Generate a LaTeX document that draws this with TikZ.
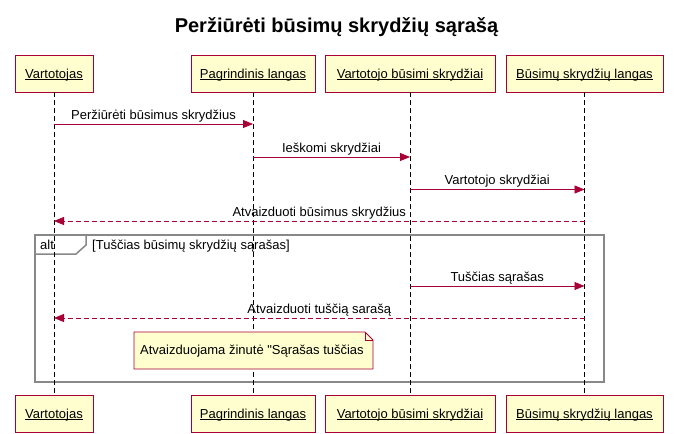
\documentclass[tikz,border=0pt]{standalone}
\usepackage{fontspec}
\setmainfont{Liberation Sans}[Ligatures=TeXOff]
\usetikzlibrary{arrows.meta}
\definecolor{pborder}{HTML}{A80036}
\definecolor{pfill}{HTML}{FEFECE}
\definecolor{framegray}{HTML}{888888}
\newcommand\ulname[1]{\setbox0\hbox{#1}\rlap{\rule[-1.3pt]{\wd0}{0.7pt}}\box0}
\begin{document}
\begin{tikzpicture}[x=1pt,y=-1pt,
  part/.style={draw=pborder, fill=pfill, line width=0.8pt, minimum height=37pt, inner sep=0pt,
    font=\fontsize{13}{15}\selectfont, text height=9.5pt, text depth=0.5pt},
  life/.style={draw=black, line width=0.7pt, dash pattern=on 5pt off 3pt},
  msg/.style={draw=pborder, line width=0.8pt, -{Triangle[length=10pt,width=8pt]}},
  ret/.style={msg, dash pattern=on 5pt off 3pt},
  lbl/.style={font=\fontsize{13}{15}\selectfont, inner sep=0pt, anchor=base},
  frm/.style={draw=framegray, line width=1.5pt},
  notebox/.style={draw=pborder, fill=pfill, line width=0.8pt}
]
\useasboundingbox (0,0) rectangle (681,434);
\fill[white] (0,0) rectangle (681,434);

\node[font=\fontsize{20}{24}\selectfont\bfseries, inner sep=0pt, anchor=base] (title) at (336.5,32) {Peržiūrėti būsimų skrydžių sąrašą};

% participants
\node[part, minimum width=78pt]  (tA) at (54,73.5)   {\ulname{Vartotojas}};
\node[part, minimum width=124pt] (tB) at (253,73.5)  {\ulname{Pagrindinis langas}};
\node[part, minimum width=170pt] (tC) at (410,73.5)  {\ulname{Vartotojo būsimi skrydžiai}};
\node[part, minimum width=157pt] (tD) at (584.5,73.5) {\ulname{Būsimų skrydžių langas}};
\node[part, minimum width=78pt]  (bA) at (54,413.5)   {\ulname{Vartotojas}};
\node[part, minimum width=124pt] (bB) at (253,413.5)  {\ulname{Pagrindinis langas}};
\node[part, minimum width=170pt] (bC) at (410,413.5)  {\ulname{Vartotojo būsimi skrydžiai}};
\node[part, minimum width=157pt] (bD) at (584.5,413.5) {\ulname{Būsimų skrydžių langas}};

% alt frame
\draw[frm] (35,235) rectangle (604,382);
\draw[frm] (35,254) -- (76,254) -- (86,245) -- (86,235);
\node[lbl, anchor=base west] (altlbl) at (40,249) {alt};
\node[lbl, anchor=base west] (guard) at (92,249) {[Tuščias būsimų skrydžių sąrašas]};

% lifelines
\draw[life] (tA.south) -- (bA.north);
\draw[life] (tB.south) -- (bB.north);
\draw[life] (tC.south) -- (bC.north);
\draw[life] (tD.south) -- (bD.north);

% message anchor points
\coordinate (m1a) at (tA.south |- 0,124);
\coordinate (m1b) at (tB.south |- 0,124);
\coordinate (m2a) at (tB.south |- 0,157);
\coordinate (m2b) at (tC.south |- 0,157);
\coordinate (m3a) at (tC.south |- 0,189.5);
\coordinate (m3b) at (tD.south |- 0,189.5);
\coordinate (m4a) at (tD.south |- 0,221);
\coordinate (m4b) at (tA.south |- 0,221);
\coordinate (m5a) at (tC.south |- 0,286);
\coordinate (m5b) at (tD.south |- 0,286);
\coordinate (m6a) at (tD.south |- 0,318);
\coordinate (m6b) at (tA.south |- 0,318);

\draw[msg] (m1a) -- (m1b) node[lbl, midway, yshift=5pt] (l1) {Peržiūrėti būsimus skrydžius};
\draw[msg] (m2a) -- (m2b) node[lbl, midway, yshift=5pt] (l2) {Ieškomi skrydžiai};
\draw[msg] (m3a) -- (m3b) node[lbl, midway, yshift=5pt] (l3) {Vartotojo skrydžiai};
\draw[ret] (m4a) -- (m4b) node[lbl, midway, yshift=5pt] (l4) {Atvaizduoti būsimus skrydžius};
\draw[msg] (m5a) -- (m5b) node[lbl, midway, yshift=5pt] (l5) {Tuščias sąrašas};
\draw[ret] (m6a) -- (m6b) node[lbl, midway, yshift=5pt] (l6) {Atvaizduoti tuščią sarašą};

% note
\draw[notebox] (134,332) -- (365,332) -- (373,340) -- (373,369) -- (134,369) -- cycle;
\draw[notebox, fill=none] (365,332) -- (365,340) -- (373,340);
\node[lbl, anchor=base west] (note) at (140,354) {Atvaizduojama žinutė "Sąrašas tuščias};
\end{tikzpicture}
\end{document}
